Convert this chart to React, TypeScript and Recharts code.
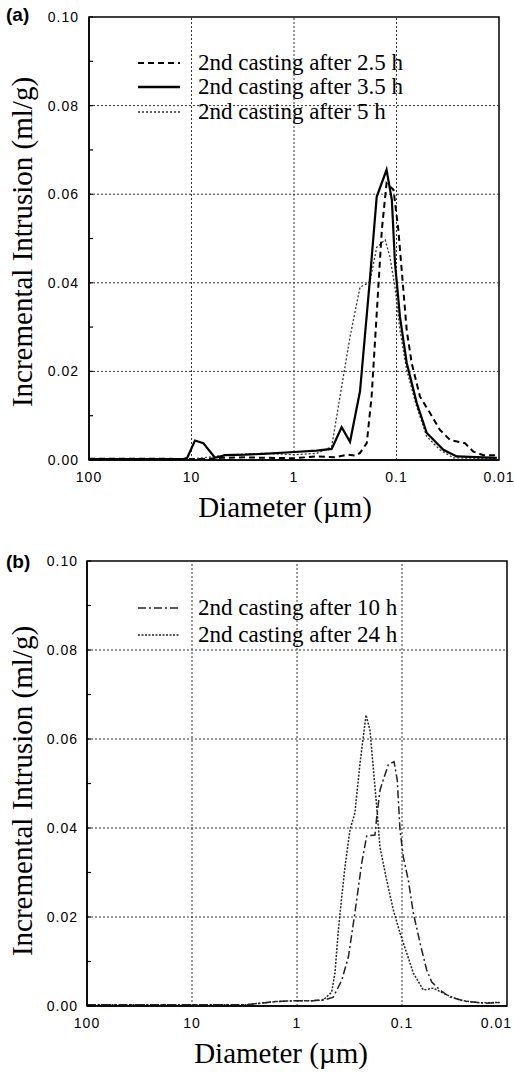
import React from 'react';
import { LineChart, Line, XAxis, YAxis, ReferenceLine, ReferenceArea } from 'recharts';

// ---------- Panel (a) data ----------
const diaA25 = [100, 50, 20, 11, 8, 5, 3, 2, 1, 0.6, 0.4, 0.3, 0.25, 0.227, 0.195, 0.175, 0.156, 0.139, 0.125, 0.107, 0.096, 0.089, 0.0795, 0.0711, 0.059, 0.0471, 0.0377, 0.03, 0.0215, 0.0178, 0.0142, 0.0105];
const incA25 = [0.0003, 0.0003, 0.0003, 0.0002, 0.0002, 0.0005, 0.0006, 0.0005, 0.0004, 0.0008, 0.0006, 0.0012, 0.001, 0.0016, 0.0038, 0.0143, 0.033, 0.052, 0.0625, 0.061, 0.052, 0.0429, 0.0293, 0.0219, 0.0143, 0.0106, 0.0068, 0.0045, 0.0038, 0.0019, 0.0011, 0.0011];

const diaA35 = [100, 30, 12, 11, 9.25, 7.67, 5.9, 4.71, 3, 2, 1, 0.6, 0.429, 0.343, 0.284, 0.227, 0.182, 0.156, 0.125, 0.111, 0.1035, 0.0925, 0.0795, 0.0635, 0.0507, 0.0349, 0.0259, 0.0105];
const incA35 = [0.0002, 0.0002, 0.0002, 0.0005, 0.0044, 0.0038, 0.0005, 0.0011, 0.0012, 0.0014, 0.0018, 0.0021, 0.0025, 0.0074, 0.0041, 0.0155, 0.0406, 0.0594, 0.0655, 0.0587, 0.0445, 0.0323, 0.0219, 0.0129, 0.0061, 0.0023, 0.0008, 0.0005];

const diaA5 = [100, 30, 10, 6, 4, 2, 1, 0.6, 0.429, 0.356, 0.284, 0.227, 0.182, 0.156, 0.129, 0.116, 0.1035, 0.0925, 0.0795, 0.0635, 0.0507, 0.0377, 0.0279, 0.0105];
const incA5 = [0.0002, 0.0002, 0.0002, 0.0008, 0.0012, 0.0015, 0.0012, 0.0015, 0.003, 0.0143, 0.0278, 0.039, 0.0402, 0.048, 0.0497, 0.0459, 0.039, 0.0293, 0.0203, 0.012, 0.0053, 0.0023, 0.0005, 0.0003];

// ---------- Panel (b) data ----------
const diaB10 = [100, 30, 10, 3, 1.6, 1, 0.7, 0.521, 0.451, 0.375, 0.324, 0.281, 0.242, 0.217, 0.181, 0.174, 0.162, 0.151, 0.135, 0.119, 0.111, 0.1045, 0.0972, 0.0871, 0.078, 0.0674, 0.0582, 0.0521, 0.0435, 0.0349, 0.0242, 0.0156, 0.0117];
const incB10 = [0.0003, 0.0003, 0.0003, 0.0003, 0.001, 0.0012, 0.0012, 0.0015, 0.002, 0.0058, 0.011, 0.0209, 0.0321, 0.0382, 0.0384, 0.0425, 0.0485, 0.0508, 0.0542, 0.0549, 0.0508, 0.0396, 0.0335, 0.0283, 0.0209, 0.0142, 0.0081, 0.0054, 0.0036, 0.002, 0.001, 0.0006, 0.0008];

const diaB24 = [100, 30, 10, 3, 1.6, 1, 0.7, 0.565, 0.468, 0.435, 0.404, 0.375, 0.349, 0.313, 0.281, 0.251, 0.22, 0.202, 0.188, 0.174, 0.162, 0.14, 0.121, 0.1045, 0.0902, 0.078, 0.0627, 0.0504, 0.0375, 0.0281, 0.0181, 0.0117];
const incB24 = [0.0003, 0.0003, 0.0003, 0.0003, 0.001, 0.0012, 0.0012, 0.0013, 0.0031, 0.0074, 0.017, 0.0245, 0.0313, 0.0396, 0.0434, 0.0546, 0.0654, 0.062, 0.0537, 0.0447, 0.0357, 0.0283, 0.0216, 0.0164, 0.0119, 0.0074, 0.0036, 0.004, 0.0025, 0.0013, 0.0007, 0.0008];

// ---------- Axes ----------
const xTicks = [100, 10, 1, 0.1, 0.01];
const xTickLabels = ['100', '10', '1', '0.1', '0.01'];
const yTicks = [0, 0.01, 0.02, 0.03, 0.04, 0.05, 0.06, 0.07, 0.08, 0.09, 0.1];
const yGridValues = [0.02, 0.04, 0.06, 0.08];
const xGridValues = [10, 1, 0.1];

const legendA = ['2nd casting after 2.5 h', '2nd casting after 3.5 h', '2nd casting after 5 h'];
const legendB = ['2nd casting after 10 h', '2nd casting after 24 h'];
const yTitle = 'Incremental Intrusion (ml/g)';
const xTitle = 'Diameter (\u00b5m)';

const SERIF = "'Liberation Serif','Times New Roman',serif";
const SANS = "'Liberation Sans',Arial,sans-serif";

const toPoints = (d: number[], v: number[]) => d.map((x, i) => ({ d: x, v: v[i] }));

type Series = { data: { d: number; v: number }[]; dash?: string; width: number; color: string; name: string };

const seriesA: Series[] = [
  { data: toPoints(diaA5, incA5), dash: '2 2', width: 1.3, color: '#333', name: legendA[2] },
  { data: toPoints(diaA25, incA25), dash: '6 4', width: 2, color: '#000', name: legendA[0] },
  { data: toPoints(diaA35, incA35), width: 2.2, color: '#000', name: legendA[1] },
];
const seriesB: Series[] = [
  { data: toPoints(diaB24, incB24), dash: '2 1.5', width: 1.5, color: '#222', name: legendB[1] },
  { data: toPoints(diaB10, incB10), dash: '8 3 2 3', width: 1.5, color: '#222', name: legendB[0] },
];

function XTick(props: any) {
  const { x, y, payload } = props;
  const v = payload?.value;
  const label = xTickLabels[xTicks.indexOf(v)] ?? String(v);
  const nearEdge = x + 15 > 514;
  return (
    <text
      x={nearEdge ? 512 : x}
      y={y}
      dy="0.71em"
      textAnchor={nearEdge ? 'end' : 'middle'}
      fontSize={14}
      fill="#000"
      fontFamily={SANS}
      letterSpacing={1}
    >
      {label}
    </text>
  );
}

type PanelProps = {
  top: number;
  height: number;
  marginTop: number;
  marginRight: number;
  yWidth: number;
  xHeight: number;
  yTickMargin: number;
  series: Series[];
};

function Panel({ top, height, marginTop, marginRight, yWidth, xHeight, yTickMargin, series }: PanelProps) {
  return (
    <div style={{ position: 'absolute', left: 0, top, width: 514, height }}>
      <LineChart width={514} height={height} margin={{ top: marginTop, right: marginRight, bottom: 0, left: 0 }}>
        <XAxis
          dataKey="d"
          type="number"
          scale="log"
          domain={[0.01, 100]}
          reversed
          allowDataOverflow
          ticks={xTicks}
          interval={0}
          height={xHeight}
          tickSize={0}
          tickMargin={12}
          tick={<XTick />}
          axisLine={{ stroke: '#000', strokeWidth: 1.5 }}
        />
        <YAxis
          type="number"
          domain={[0, 0.1]}
          ticks={yTicks}
          interval={0}
          width={yWidth}
          tickSize={-4}
          tickMargin={yTickMargin}
          tickFormatter={(v: number) => (Math.round(v * 100) % 2 === 0 ? v.toFixed(2) : '')}
          tick={{ fontSize: 14, fill: '#000', fontFamily: SANS, letterSpacing: 1 }}
          tickLine={{ stroke: '#000', strokeWidth: 1.2 }}
          axisLine={{ stroke: '#000', strokeWidth: 1.5 }}
        />
        {yGridValues.map((y) => (
          <ReferenceLine key={'y' + y} y={y} stroke="#333" strokeDasharray="2 2" strokeWidth={1} />
        ))}
        {xGridValues.map((x) => (
          <ReferenceLine key={'x' + x} x={x} stroke="#333" strokeDasharray="2 2" strokeWidth={1} />
        ))}
        <ReferenceArea x1={100} x2={0.01} y1={0} y2={0.1} fill="none" stroke="#000" strokeWidth={1.5} ifOverflow="visible" />
        {series.map((s) => (
          <Line
            key={s.name}
            data={s.data}
            dataKey="v"
            type="linear"
            stroke={s.color}
            strokeWidth={s.width}
            strokeDasharray={s.dash}
            dot={false}
            activeDot={false}
            isAnimationActive={false}
          />
        ))}
      </LineChart>
    </div>
  );
}

function LegendRow({ x, y, label, dash, width, color }: { x: number; y: number; label: string; dash?: string; width: number; color: string }) {
  return (
    <div style={{ position: 'absolute', left: x, top: y - 14, height: 28, display: 'flex', alignItems: 'center', whiteSpace: 'nowrap' }}>
      <svg width={44} height={10} style={{ display: 'block' }}>
        <line x1={1} y1={5} x2={43} y2={5} stroke={color} strokeWidth={width} strokeDasharray={dash} />
      </svg>
      <span style={{ marginLeft: 17, fontFamily: SERIF, fontSize: 23, lineHeight: '28px', color: '#000' }}>{label}</span>
    </div>
  );
}

function YTitle({ cx, cy }: { cx: number; cy: number }) {
  return (
    <div
      style={{
        position: 'absolute',
        left: cx - 200,
        top: cy - 15,
        width: 400,
        height: 30,
        lineHeight: '30px',
        textAlign: 'center',
        fontFamily: SERIF,
        fontSize: 29,
        color: '#000',
        transform: 'rotate(-90deg)',
        whiteSpace: 'nowrap',
      }}
    >
      {yTitle}
    </div>
  );
}

function XTitle({ cx, cy }: { cx: number; cy: number }) {
  return (
    <div
      style={{
        position: 'absolute',
        left: cx - 150,
        top: cy - 15,
        width: 300,
        height: 30,
        lineHeight: '30px',
        textAlign: 'center',
        fontFamily: SERIF,
        fontSize: 29,
        color: '#000',
        whiteSpace: 'nowrap',
      }}
    >
      {xTitle}
    </div>
  );
}

function PanelTag({ y, text }: { y: number; text: string }) {
  return (
    <div style={{ position: 'absolute', left: 6, top: y - 12, height: 24, lineHeight: '24px', fontFamily: SANS, fontWeight: 'bold', fontSize: 19, color: '#000' }}>
      {text}
    </div>
  );
}

export default function App() {
  return (
    <div style={{ position: 'absolute', left: 0, top: 0, width: 514, height: 1076, background: '#fff', overflow: 'hidden' }}>
      <Panel top={0} height={520} marginTop={17} marginRight={15} yWidth={89} xHeight={60} yTickMargin={14} series={seriesA} />
      <Panel top={541} height={535} marginTop={20} marginRight={7} yWidth={87} xHeight={70} yTickMargin={13} series={seriesB} />

      <PanelTag y={15} text="(a)" />
      <PanelTag y={562} text="(b)" />

      <YTitle cx={22} cy={242} />
      <YTitle cx={22} cy={791} />
      <XTitle cx={285} cy={507} />
      <XTitle cx={281} cy={1053} />

      <LegendRow x={137} y={63} label={legendA[0]} dash="6 4" width={2} color="#000" />
      <LegendRow x={137} y={87} label={legendA[1]} width={2.4} color="#000" />
      <LegendRow x={137} y={112} label={legendA[2]} dash="2 2" width={1.3} color="#333" />

      <LegendRow x={137} y={608} label={legendB[0]} dash="8 3 2 3" width={1.6} color="#222" />
      <LegendRow x={137} y={635} label={legendB[1]} dash="2 1.5" width={1.5} color="#222" />
    </div>
  );
}
